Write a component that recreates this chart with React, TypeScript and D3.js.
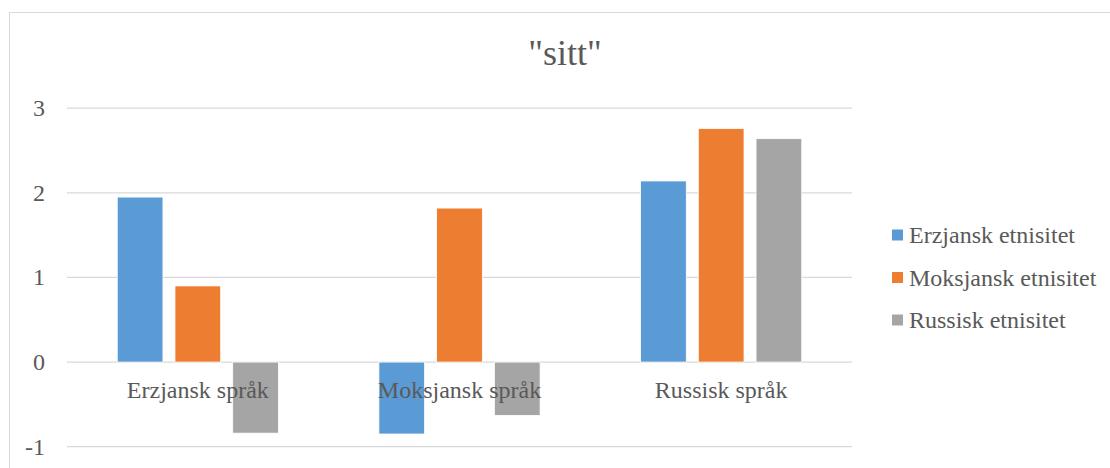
import React from "react";
import * as d3 from "d3";

const categories = ["Erzjansk språk", "Moksjansk språk", "Russisk språk"];
const seriesNames = ["Erzjansk etnisitet", "Moksjansk etnisitet", "Russisk etnisitet"];
const erzjanskEtn = [1.95, -0.85, 2.14];
const moksjanskEtn = [0.9, 1.82, 2.76];
const russiskEtn = [-0.84, -0.63, 2.64];
const yTicks = [-1, 0, 1, 2, 3];
const title = '"sitt"';

const seriesValues = [erzjanskEtn, moksjanskEtn, russiskEtn];
const colors = ["#5B9BD5", "#ED7D31", "#A5A5A5"];

const W = 1110;
const H = 468;
const plotLeft = 67;
const plotRight = 852;
const yTop = 108.2;
const yBottom = 446.7;
const font = "Times New Roman, Liberation Serif, Tinos, DejaVu Serif, serif";
const textColor = "#595959";

export default function App() {
  const y = d3.scaleLinear().domain([-1, 3]).range([yBottom, yTop]);
  const x0 = d3.scaleBand<string>().domain(categories).range([plotLeft, plotRight]).padding(0);
  const x1 = d3
    .scaleBand<string>()
    .domain(seriesNames)
    .range([0, x0.bandwidth()])
    .paddingInner(0.208)
    .paddingOuter(0.87);

  return (
    <div style={{ fontFamily: font, position: "absolute", left: 0, top: 0 }}>
      <svg width={W} height={H} style={{ display: "block", background: "#fff" }}>
        <rect x={0} y={0} width={W} height={H} fill="#fff" />
        <rect x={9.5} y={12.5} width={W + 20} height={H + 20} fill="none" stroke="#d9d9d9" strokeWidth={1} />
        <text x={565} y={65} textAnchor="middle" fontSize={36} fill={textColor} fontFamily={font}>
          {title}
        </text>
        {yTicks.map((t) => (
          <g key={t}>
            <line x1={plotLeft} x2={plotRight} y1={y(t)} y2={y(t)} stroke="#d9d9d9" strokeWidth={1.3} />
            <text x={45} y={y(t) + 8} textAnchor="end" fontSize={24} fill={textColor} fontFamily={font}>
              {t}
            </text>
          </g>
        ))}
        {categories.map((c, ci) => (
          <g key={c} transform={`translate(${x0(c)},0)`}>
            {seriesNames.map((s, si) => {
              const v = seriesValues[si][ci];
              const y1 = y(Math.max(0, v));
              const y2 = y(Math.min(0, v));
              return (
                <rect
                  key={s}
                  x={x1(s)}
                  y={y1}
                  width={x1.bandwidth()}
                  height={y2 - y1}
                  fill={colors[si]}
                  stroke="#fff"
                  strokeWidth={0.8}
                />
              );
            })}
          </g>
        ))}
        {categories.map((c) => (
          <text
            key={c}
            x={(x0(c) as number) + x0.bandwidth() / 2}
            y={398}
            textAnchor="middle"
            fontSize={24}
            fill={textColor}
            fontFamily={font}
          >
            {c}
          </text>
        ))}
        {seriesNames.map((s, si) => {
          const cy = 235 + si * 42.5;
          return (
            <g key={s}>
              <rect x={892} y={cy - 5.5} width={11} height={11} fill={colors[si]} />
              <text x={909} y={cy + 8} fontSize={24} fill={textColor} fontFamily={font}>
                {s}
              </text>
            </g>
          );
        })}
      </svg>
    </div>
  );
}
